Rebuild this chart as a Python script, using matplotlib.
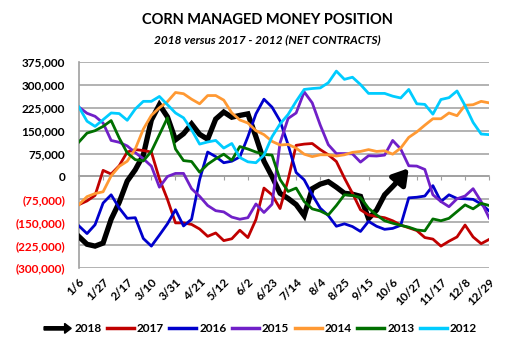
import numpy as np
import matplotlib.pyplot as plt
from matplotlib.lines import Line2D
from matplotlib.patches import FancyArrow
from matplotlib.legend_handler import HandlerPatch
from matplotlib.ticker import FuncFormatter

plt.rcParams['font.family'] = ['Lato', 'DejaVu Sans']

weeks = ['1/6', '1/13', '1/20', '1/27', '2/3', '2/10', '2/17', '2/24', '3/3', '3/10',
         '3/17', '3/24', '3/31', '4/7', '4/14', '4/21', '4/28', '5/5', '5/12', '5/19',
         '5/26', '6/2', '6/9', '6/16', '6/23', '6/30', '7/7', '7/14', '7/21', '7/28',
         '8/4', '8/11', '8/18', '8/25', '9/1', '9/8', '9/15', '9/22', '9/29', '10/6',
         '10/13', '10/20', '10/27', '11/3', '11/10', '11/17', '11/24', '12/1', '12/8',
         '12/15', '12/22', '12/29']
yticks = [-300000, -225000, -150000, -75000, 0, 75000, 150000, 225000, 300000, 375000]

# net contracts, thousands
y2018 = [-197, -222, -228, -218, -140, -85, -15, 22, 70, 185, 235, 195, 120, 140, 172,
         138, 122, 188, 211, 194, 200, 205, 130, 50, 0, -55, -72, -92, -128, -40, -25,
         -17, -35, -55, -58, -65, -138, -110, -60, -33, -5, 27]
y2017 = [-92, -80, -62, 20, 8, 35, 80, 88, 85, 80, -8, -75, -152, -152, -157, -172,
         -196, -185, -210, -204, -176, -200, -141, -38, -60, -105, -10, 102, 106, 108,
         88, 71, 49, -5, -55, -109, -126, -131, -135, -145, -159, -168, -177, -200,
         -205, -228, -212, -198, -159, -198, -220, -206]
y2016 = [-162, -187, -158, -87, -60, -103, -137, -135, -203, -228, -192, -155, -109,
         -162, -140, -10, 80, 65, 45, 50, 64, 130, 205, 253, 227, 182, 104, 13, -11,
         -60, -104, -128, -163, -155, -164, -180, -147, -163, -173, -170, -160, -70,
         -68, -64, -30, -82, -60, -72, -73, -75, -90, -113]
y2015 = [227, 207, 197, 175, 118, 112, 100, 78, 58, 34, -35, 0, 10, 10, -40, -65, -95,
         -112, -116, -133, -140, -135, -90, -118, -91, 110, 190, 208, 277, 241, 168,
         104, 75, 75, 74, 47, 68, 67, 70, 118, 90, 35, 34, 23, -60, -82, -99, -73, -64,
         -40, -82, -136]
y2014 = [-92, -66, -56, -50, 2, 33, 50, 90, 155, 200, 225, 245, 275, 271, 253, 238,
         265, 265, 250, 208, 185, 175, 150, 137, 115, 103, 105, 93, 73, 65, 71, 71, 67,
         71, 79, 82, 88, 82, 84, 73, 93, 128, 146, 168, 189, 189, 208, 199, 233, 235,
         246, 241]
y2013 = [113, 142, 150, 164, 183, 126, 77, 55, 51, 82, 137, 192, 90, 52, 49, 14, 40,
         58, 73, 53, 98, 90, 80, 72, 70, -10, -49, -38, -82, -106, -113, -126, -95,
         -60, -62, -69, -104, -126, -145, -153, -160, -166, -175, -178, -139, -145,
         -137, -115, -93, -106, -88, -95]
y2012 = [227, 181, 164, 186, 208, 206, 184, 221, 246, 246, 262, 235, 208, 192, 153,
         106, 113, 118, 93, 108, 62, 48, 45, 70, 130, 172, 203, 246, 285, 288, 290, 307,
         345, 318, 325, 301, 272, 272, 272, 263, 257, 285, 238, 236, 204, 252, 258, 280,
         232, 177, 139, 137]

series = [('2017', y2017, '#C00000'), ('2016', y2016, '#0000CC'),
          ('2015', y2015, '#7020C8'), ('2014', y2014, '#FF9933'),
          ('2013', y2013, '#007000'), ('2012', y2012, '#00CCFF')]

fig = plt.figure(figsize=(5.3, 3.5), dpi=100)
ax = fig.add_axes([0.149, 0.234, 0.774, 0.589])

x = np.arange(len(weeks))
v18 = np.array(y2018) * 1000
n = len(v18)
ax.plot(x[:n - 1], v18[:n - 1], color='black', lw=3.8, solid_joinstyle='miter', zorder=3)
ax.annotate('', xy=(x[n - 1], v18[n - 1]), xytext=(x[n - 2], v18[n - 2]),
            arrowprops=dict(arrowstyle='-|>,head_length=0.9,head_width=0.55',
                            color='black', lw=3.8, mutation_scale=10,
                            shrinkA=0, shrinkB=0), zorder=3)
for i, (name, vals, col) in enumerate(series):
    ax.plot(x, np.array(vals) * 1000, color=col, lw=2.0, zorder=4 + i)

ax.set_xlim(0, len(weeks) - 1)
ax.set_ylim(-300000, 375000)
ax.set_yticks(yticks)
ax.yaxis.set_major_formatter(FuncFormatter(
    lambda v, p: '0' if v == 0 else ('({:,.0f})'.format(-v) if v < 0 else '{:,.0f}'.format(v))))
ax.grid(axis='y', color='#A6A6A6', lw=1.2)
ax.set_axisbelow(True)
ax.tick_params(axis='y', length=0, pad=10, labelsize=8.5)
for lab in ax.get_yticklabels():
    lab.set_fontweight('bold')
    if lab.get_position()[1] < 0:
        lab.set_color('#FF0000')

# category axis crosses at zero
ax.spines['top'].set_visible(False)
ax.spines['right'].set_visible(False)
ax.spines['left'].set_color('#A0A0A0')
ax.spines['left'].set_linewidth(1.2)
ax.spines['bottom'].set_position(('data', 0))
ax.spines['bottom'].set_color('#A0A0A0')
ax.spines['bottom'].set_linewidth(1.2)
ax.set_xticks(x[::3])
ax.tick_params(axis='x', direction='out', length=3, color='#A0A0A0', labelbottom=False)

sec = ax.secondary_xaxis('bottom')
sec.set_xticks(x[::3])
sec.set_xticklabels(weeks[::3], rotation=45, ha='right', rotation_mode='anchor',
                    fontsize=8.5, fontweight='bold')
sec.tick_params(length=0, pad=6)
sec.spines['bottom'].set_visible(False)

fig.text(0.505, 0.943, 'CORN MANAGED MONEY POSITION', ha='center', va='center',
         fontsize=10.5, fontweight='bold')
fig.text(0.505, 0.887, '2018 versus 2017 - 2012 (NET CONTRACTS)', ha='center',
         va='center', fontsize=8.5, fontweight='bold', style='italic')


def make_arrow(legend, orig_handle, xdescent, ydescent, width, height, fontsize):
    return FancyArrow(0, height / 2, width, 0, width=height * 0.4,
                      head_width=height * 1.2, head_length=height * 0.8,
                      length_includes_head=True, color='black')


handles = [FancyArrow(0, 0, 1, 0, color='black')] + \
    [Line2D([], [], color=c, lw=2.5) for _, _, c in series]
labels = ['2018'] + [s[0] for s in series]
fig.legend(handles, labels, loc='center', bbox_to_anchor=(0.4915, 0.06), ncol=7,
           frameon=False, handlelength=2.3, handletextpad=0.25, columnspacing=0.45,
           prop=dict(weight='bold', size=8.5),
           handler_map={FancyArrow: HandlerPatch(patch_func=make_arrow)})

fig.savefig('out.png', dpi=100, facecolor='white')
